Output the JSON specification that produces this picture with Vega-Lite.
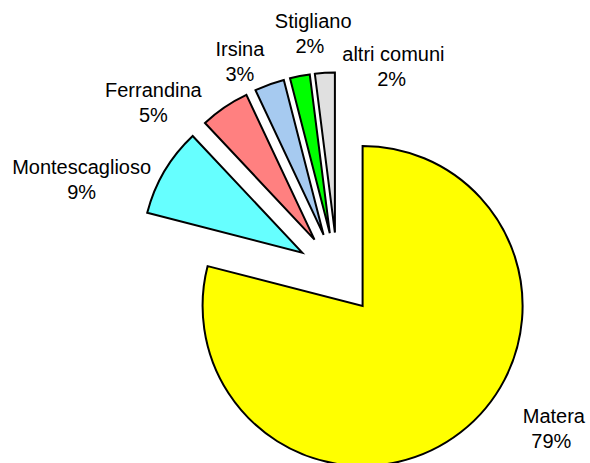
{
  "$schema": "https://vega.github.io/schema/vega-lite/v6.json",
  "autosize": "none",
  "width": 505,
  "height": 379,
  "padding": {"left": 85, "top": 84, "right": 0, "bottom": 0},
  "background": "white",
  "config": {
    "view": {"stroke": null},
    "text": {"font": "Liberation Sans", "fontSize": 20, "fill": "black", "align": "center", "baseline": "alphabetic"}
  },
  "data": {
    "values": [
      {"comune": "Matera", "quota": 0.79},
      {"comune": "Montescaglioso", "quota": 0.09},
      {"comune": "Ferrandina", "quota": 0.05},
      {"comune": "Irsina", "quota": 0.03},
      {"comune": "Stigliano", "quota": 0.02},
      {"comune": "altri comuni", "quota": 0.02}
    ]
  },
  "transform": [
    {"stack": "quota", "groupby": [], "as": ["inizio", "fine"]}
  ],
  "encoding": {
    "theta": {"field": "inizio", "type": "quantitative", "scale": {"domain": [0, 1]}},
    "theta2": {"field": "fine"}
  },
  "layer": [
    {
      "transform": [{"filter": {"field": "comune", "equal": "Matera"}}],
      "layer": [
        {"mark": {"type": "arc", "radius": 160, "xOffset": 25.1, "yOffset": 32.4, "stroke": "black", "strokeWidth": 2},
         "encoding": {"color": {"field": "comune", "type": "nominal", "legend": null, "scale": {"domain": ["Matera", "Montescaglioso", "Ferrandina", "Irsina", "Stigliano", "altri comuni"], "range": ["#FFFF00", "#66FFFF", "#FF8080", "#A6CAF0", "#00FF00", "#E0E0E0"]}}}},
        {"mark": {"type": "text", "radius": 215, "thetaOffset": 2.4819, "dx": 84.6, "dy": -20.2}, "encoding": {"text": {"field": "comune"}}},
        {"mark": {"type": "text", "radius": 215, "thetaOffset": 2.4819, "dx": 82, "dy": 4.8}, "encoding": {"text": {"field": "quota", "format": ".0%"}}}
      ]
    },
    {
      "transform": [{"filter": {"field": "comune", "equal": "Montescaglioso"}}],
      "layer": [
        {"mark": {"type": "arc", "radius": 160, "xOffset": -35.3, "yOffset": -20.9, "stroke": "black", "strokeWidth": 2},
         "encoding": {"color": {"field": "comune", "type": "nominal", "legend": null}}},
        {"mark": {"type": "text", "radius": 215, "thetaOffset": 0.28274, "dx": -70.8, "dy": 9.8}, "encoding": {"text": {"field": "comune"}}},
        {"mark": {"type": "text", "radius": 215, "thetaOffset": 0.28274, "dx": -70.8, "dy": 34.8}, "encoding": {"text": {"field": "quota", "format": ".0%"}}}
      ]
    },
    {
      "transform": [{"filter": {"field": "comune", "equal": "Ferrandina"}}],
      "layer": [
        {"mark": {"type": "arc", "radius": 160, "xOffset": -23.0, "yOffset": -33.9, "stroke": "black", "strokeWidth": 2},
         "encoding": {"color": {"field": "comune", "type": "nominal", "legend": null}}},
        {"mark": {"type": "text", "radius": 215, "thetaOffset": 0.15708, "dx": -63.3, "dy": 0.9}, "encoding": {"text": {"field": "comune"}}},
        {"mark": {"type": "text", "radius": 215, "thetaOffset": 0.15708, "dx": -63.3, "dy": 25.9}, "encoding": {"text": {"field": "quota", "format": ".0%"}}}
      ]
    },
    {
      "transform": [{"filter": {"field": "comune", "equal": "Irsina"}}],
      "layer": [
        {"mark": {"type": "arc", "radius": 160, "xOffset": -13.9, "yOffset": -38.6, "stroke": "black", "strokeWidth": 2},
         "encoding": {"color": {"field": "comune", "type": "nominal", "legend": null}}},
        {"mark": {"type": "text", "radius": 215, "thetaOffset": 0.094248, "dx": -24.8, "dy": -15.3}, "encoding": {"text": {"field": "comune"}}},
        {"mark": {"type": "text", "radius": 215, "thetaOffset": 0.094248, "dx": -24.8, "dy": 9.7}, "encoding": {"text": {"field": "quota", "format": ".0%"}}}
      ]
    },
    {
      "transform": [{"filter": {"field": "comune", "equal": "Stigliano"}}],
      "layer": [
        {"mark": {"type": "arc", "radius": 160, "xOffset": -7.7, "yOffset": -40.3, "stroke": "black", "strokeWidth": 2},
         "encoding": {"color": {"field": "comune", "type": "nominal", "legend": null}}},
        {"mark": {"type": "text", "radius": 215, "thetaOffset": 0.062832, "dx": 16, "dy": -34.1}, "encoding": {"text": {"field": "comune"}}},
        {"mark": {"type": "text", "radius": 215, "thetaOffset": 0.062832, "dx": 12.7, "dy": -9.1}, "encoding": {"text": {"field": "quota", "format": ".0%"}}}
      ]
    },
    {
      "transform": [{"filter": {"field": "comune", "equal": "altri comuni"}}],
      "layer": [
        {"mark": {"type": "arc", "radius": 160, "xOffset": -2.6, "yOffset": -40.9, "stroke": "black", "strokeWidth": 2},
         "encoding": {"color": {"field": "comune", "type": "nominal", "legend": null}}},
        {"mark": {"type": "text", "radius": 215, "thetaOffset": 0.062832, "dx": 69.4, "dy": 1.7}, "encoding": {"text": {"field": "comune"}}},
        {"mark": {"type": "text", "radius": 215, "thetaOffset": 0.062832, "dx": 67.6, "dy": 26.7}, "encoding": {"text": {"field": "quota", "format": ".0%"}}}
      ]
    }
  ]
}
